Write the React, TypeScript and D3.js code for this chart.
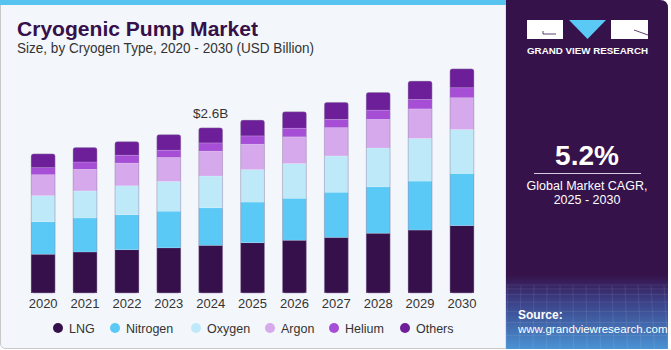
import React from "react";
import { scaleBand, scaleLinear, stack, range } from "d3";

// values in USD billion
const years = ["2020", "2021", "2022", "2023", "2024", "2025", "2026", "2027", "2028", "2029", "2030"];
const lng = [0.61, 0.645, 0.68, 0.71, 0.75, 0.79, 0.83, 0.875, 0.94, 0.99, 1.06];
const nitrogen = [0.51, 0.535, 0.55, 0.577, 0.59, 0.64, 0.66, 0.71, 0.73, 0.77, 0.82];
const oxygen = [0.41, 0.425, 0.455, 0.467, 0.5, 0.51, 0.545, 0.57, 0.61, 0.67, 0.69];
const argon = [0.33, 0.34, 0.357, 0.377, 0.39, 0.4, 0.42, 0.445, 0.45, 0.465, 0.5];
const helium = [0.11, 0.115, 0.126, 0.115, 0.13, 0.13, 0.137, 0.13, 0.146, 0.148, 0.157];
const others = [0.22, 0.23, 0.215, 0.247, 0.24, 0.25, 0.26, 0.27, 0.28, 0.29, 0.3];

const seriesNames = ["LNG", "Nitrogen", "Oxygen", "Argon", "Helium", "Others"];
const colors = ["#36104a", "#5bc9f6", "#bde9f8", "#d5a9ec", "#a64fd6", "#6c1f98"];
const legendX = [58, 115, 196, 270, 334, 405];

const labelYear = "2024";
const labelText = "$2.6B";

export default function App() {
  const rows = years.map((y, i) => ({
    year: y,
    LNG: lng[i],
    Nitrogen: nitrogen[i],
    Oxygen: oxygen[i],
    Argon: argon[i],
    Helium: helium[i],
    Others: others[i],
  }));
  const layers = stack<any>().keys(seriesNames)(rows);

  const x = scaleBand<string>()
    .domain(years)
    .range([22.2, 482.9])
    .paddingInner(0.42)
    .paddingOuter(0.21);
  const y = scaleLinear().domain([0, 3.5]).range([293, 293 - 3.5 * 63.6]);

  const totals = rows.map((r, i) => lng[i] + nitrogen[i] + oxygen[i] + argon[i] + helium[i] + others[i]);
  const li = years.indexOf(labelYear);

  const font = "'Liberation Sans', Arial, sans-serif";

  return (
    <svg width={671} height={350} style={{ position: "absolute", left: 0, top: 0 }} fontFamily={font}>
      <defs>
        <linearGradient id="bottomGlow" x1="0" y1="0" x2="0" y2="1">
          <stop offset="0" stopColor="#36124a" />
          <stop offset="0.35" stopColor="#3b3f86" />
          <stop offset="1" stopColor="#4a93d4" />
        </linearGradient>
        {years.map((yr, i) => (
          <clipPath id={`clip${i}`} key={yr}>
            <rect x={x(yr)} y={y(totals[i])} width={x.bandwidth()} height={y(0) - y(totals[i]) + 6} rx={3} />
          </clipPath>
        ))}
      </defs>

      {/* left panel */}
      <rect x={0} y={0} width={506} height={350} fill="#fff" />
      <path d="M0.5,4 L0.5,343 Q0.5,348.5 6,348.5 L506,348.5 L506,4 Z" fill="#f3f7fb" stroke="#c9c9c9" strokeWidth={1} />
      <rect x={0} y={0} width={506} height={5} fill="#57c3ef" />

      <text x={17} y={36} fontSize={21} fontWeight={900} fill="#36104a" textLength={241} lengthAdjust="spacingAndGlyphs">
        Cryogenic Pump Market
      </text>
      <text x={17} y={53} fontSize={14} fill="#333" textLength={297} lengthAdjust="spacingAndGlyphs">
        Size, by Cryogen Type, 2020 - 2030 (USD Billion)
      </text>

      {/* bars */}
      {years.map((yr, i) => (
        <g key={yr} clipPath={`url(#clip${i})`}>
          {layers.map((layer, k) => {
            const d = layer[i];
            return (
              <rect
                key={k}
                x={x(yr)}
                y={y(d[1])}
                width={x.bandwidth()}
                height={y(d[0]) - y(d[1])}
                fill={colors[k]}
                stroke="rgba(255,255,255,0.25)"
                strokeWidth={0.6}
              />
            );
          })}
        </g>
      ))}
      {years.map((yr, i) => (
        <rect
          key={"o" + yr}
          x={(x(yr) as number) + 0.25}
          y={y(totals[i]) + 0.25}
          width={x.bandwidth() - 0.5}
          height={y(0) - y(totals[i]) - 0.25}
          rx={2.5}
          fill="none"
          stroke="rgba(140,120,160,0.55)"
          strokeWidth={0.8}
        />
      ))}

      <text
        x={(x(labelYear) as number) + x.bandwidth() / 2}
        y={y(totals[li]) - 10}
        textAnchor="middle"
        fontSize={13.5}
        fill="#333"
      >
        {labelText}
      </text>

      {/* x axis labels */}
      {years.map((yr) => (
        <text key={"t" + yr} x={(x(yr) as number) + x.bandwidth() / 2} y={308} textAnchor="middle" fontSize={13} fill="#333">
          {yr}
        </text>
      ))}

      {/* legend */}
      {seriesNames.map((s, k) => (
        <g key={"l" + s} transform={`translate(${legendX[k]},328)`}>
          <circle r={5} fill={colors[k]} />
          <text x={11} y={4.5} fontSize={12.5} fill="#333">
            {s}
          </text>
        </g>
      ))}

      {/* right panel */}
      <path d="M506,0 L660,0 Q668,0 668,8 L668,349 L506,349 Z" fill="#36124a" />
      <rect x={506} y={275} width={162} height={74} fill="url(#bottomGlow)" />
      <g stroke="rgba(255,255,255,0.12)" strokeWidth={0.7}>
        {range(0, 9).map((i) => (
          <line key={"h" + i} x1={506} x2={668} y1={285 + i * i * 0.9 + i * 3} y2={285 + i * i * 0.9 + i * 3} />
        ))}
        {range(0, 13).map((i) => (
          <line key={"v" + i} x1={508 + i * 13} x2={506 + i * 13.5} y1={285} y2={349} />
        ))}
      </g>

      {/* logo */}
      <rect x={527} y={20} width={36} height={19} fill="#fff" />
      <path d="M543,31 L543,34 L556,34" fill="none" stroke="#36124a" strokeWidth={0.8} />
      <path d="M569,20 L606,20 L587.5,39 Z" fill="#5bc9f6" />
      <rect x={611} y={20} width={37} height={19} fill="#fff" />
      <path d="M634,30 L648,35" stroke="#36124a" strokeWidth={0.8} />
      <text x={587.5} y={54} textAnchor="middle" fontSize={9.5} fontWeight={700} fill="#fff" textLength={121} lengthAdjust="spacingAndGlyphs">
        GRAND VIEW RESEARCH
      </text>

      <text x={587} y={165} textAnchor="middle" fontSize={28} fontWeight={700} fill="#fff">
        5.2%
      </text>
      <line x1={534} x2={641} y1={173.5} y2={173.5} stroke="#d8cde0" strokeWidth={1} />
      <text x={587} y={190} textAnchor="middle" fontSize={12.5} fill="#fff">
        Global Market CAGR,
      </text>
      <text x={587} y={204} textAnchor="middle" fontSize={12.5} fill="#fff">
        2025 - 2030
      </text>

      <text x={518} y={319} fontSize={12} fontWeight={700} fill="#fff">
        Source:
      </text>
      <text x={518} y={333} fontSize={11.5} fill="#fff">
        www.grandviewresearch.com
      </text>
    </svg>
  );
}
